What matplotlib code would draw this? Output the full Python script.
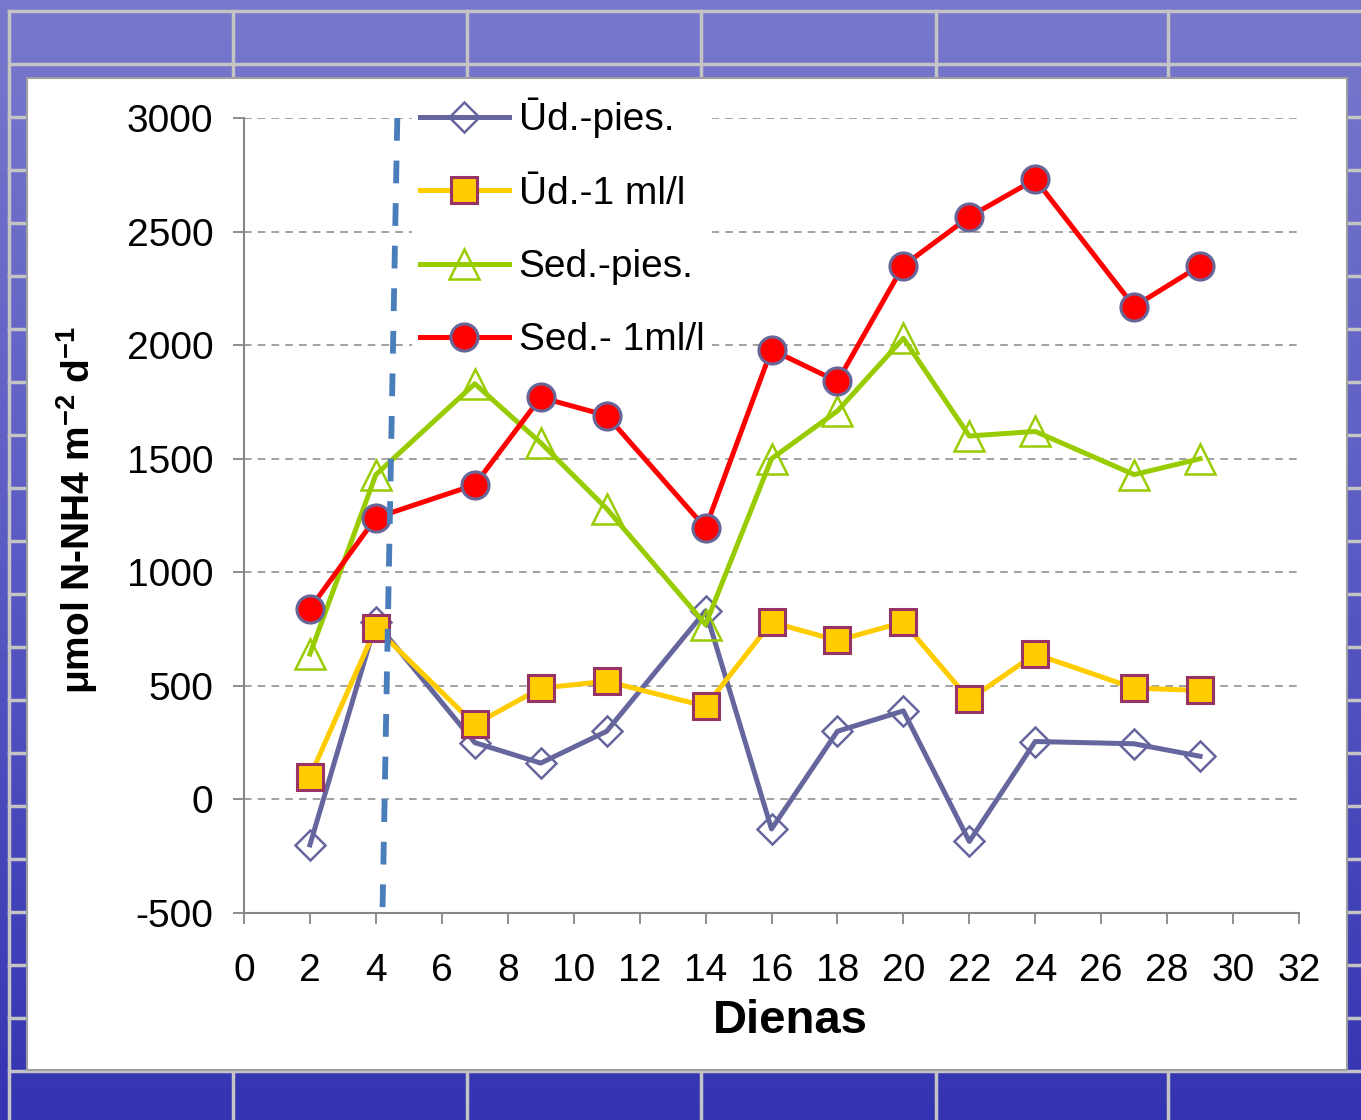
import numpy as np
import matplotlib.pyplot as plt
from matplotlib.patches import Rectangle
from matplotlib.colors import LinearSegmentedColormap

plt.rcParams["font.family"] = ["Liberation Sans", "DejaVu Sans"]
plt.rcParams["axes.unicode_minus"] = False
plt.rcParams["mathtext.fontset"] = "custom"
plt.rcParams["mathtext.rm"] = "Liberation Sans:bold"
plt.rcParams["mathtext.default"] = "rm"

# Days of measurement
days = [2, 4, 7, 9, 11, 14, 16, 18, 20, 22, 24, 27, 29]

ud_pies = [-200, 780, 250, 160, 300, 830, -130, 300, 390, -185, 255, 245, 190]
ud_1ml = [100, 755, 330, 490, 520, 410, 780, 700, 780, 440, 640, 490, 480]
sed_pies = [640, 1430, 1830, 1570, 1280, 770, 1500, 1710, 2030, 1600, 1620, 1430, 1500]
sed_1ml = [840, 1240, 1385, 1770, 1690, 1195, 1980, 1840, 2350, 2565, 2730, 2170, 2350]

series_labels = ["Ūd.-pies.", "Ūd.-1 ml/l", "Sed.-pies.", "Sed.- 1ml/l"]

x_ticks = list(range(0, 33, 2))
y_ticks = [-500, 0, 500, 1000, 1500, 2000, 2500, 3000]
y_tick_labels = ["-500", "0", "500", "1000", "1500", "2000", "2500", "3000"]

# Hand drawn dashed separator line on the slide
sep_x = [4.65, 4.2]
sep_y = [3000, -500]

W, H = 1361, 1120
fig = plt.figure(figsize=(W / 100, H / 100), dpi=100)

# Slide background: blue gradient with grey grid
bg = fig.add_axes([0, 0, 1, 1])
bg.set_xlim(0, W)
bg.set_ylim(H, 0)
bg.axis("off")
grad = np.linspace(0, 1, 256).reshape(-1, 1)
cmap = LinearSegmentedColormap.from_list("slide", ["#7878cc", "#5a5ac4", "#3434b2"])
bg.imshow(grad, cmap=cmap, aspect="auto", extent=[0, W, H, 0], zorder=0)
for gx in [9, 233, 467, 701, 936, 1168]:
    bg.plot([gx, gx], [11, H], color="#c4c4c4", lw=2.5, zorder=1)
for gy in [11] + list(range(64, H, 53)):
    bg.plot([9, W], [gy, gy], color="#c4c4c4", lw=2.5, zorder=1)
bg.add_patch(Rectangle((27, 78), 1320, 992, facecolor="white",
                       edgecolor="#a0a0a0", lw=1.5, zorder=2))

ax = fig.add_axes([244 / W, 1 - 913 / H, 1055 / W, 795 / H])
ax.patch.set_alpha(0)

ax.plot(days, ud_pies, color="#66669e", lw=3.6, marker="D", ms=15.5,
        mfc="none", mec="#66669e", mew=1.8, label=series_labels[0])
ax.plot(days, ud_1ml, color="#ffcc00", lw=3.6, marker="s", ms=18.5,
        mfc="#ffcc00", mec="#993366", mew=2.2, label=series_labels[1])
ax.plot(days, sed_pies, color="#99cc00", lw=3.6, marker="^", ms=22,
        mfc="none", mec="#99cc00", mew=1.8, label=series_labels[2])
ax.plot(days, sed_1ml, color="#ff0000", lw=3.6, marker="o", ms=19.5,
        mfc="#ff0000", mec="#666699", mew=2.2, label=series_labels[3])

ax.plot(sep_x, sep_y, color="#4a7ebb", lw=4.2, dashes=(3.9, 3.4), zorder=7,
        clip_on=False)

ax.set_xlim(0, 32)
ax.set_ylim(-500, 3000)
ax.set_xticks(x_ticks)
ax.set_yticks(y_ticks, y_tick_labels)
ax.yaxis.grid(True, color="#888888", lw=1.1, dashes=(5, 4))
ax.set_axisbelow(True)
for s in ["top", "right"]:
    ax.spines[s].set_visible(False)
for s in ["left", "bottom"]:
    ax.spines[s].set_color("#868686")
    ax.spines[s].set_linewidth(1.5)
ax.tick_params(axis="both", direction="out", length=8, width=1.3,
               color="#868686", labelsize=28)
ax.tick_params(axis="y", pad=14)
ax.tick_params(axis="x", pad=21)

ax.set_xlabel("Dienas", fontsize=34, fontweight="bold")
ax.xaxis.set_label_coords((790 - 244) / 1055, -0.108)
ax.set_ylabel("μmol N-NH4 m$^{-2}$ d$^{-1}$", fontsize=28, fontweight="bold")
ax.yaxis.set_label_coords((100 - 244) / 1055, 0.507)

leg = ax.legend(loc="upper left", bbox_to_anchor=(0.159, 1.035), fontsize=28,
                frameon=True, edgecolor="none", facecolor="white", framealpha=1,
                borderpad=0.2, borderaxespad=0, handlelength=2.3,
                handletextpad=0.25, labelspacing=0.96, numpoints=1)
leg.set_zorder(6)

fig.savefig("out.png", dpi=100)
